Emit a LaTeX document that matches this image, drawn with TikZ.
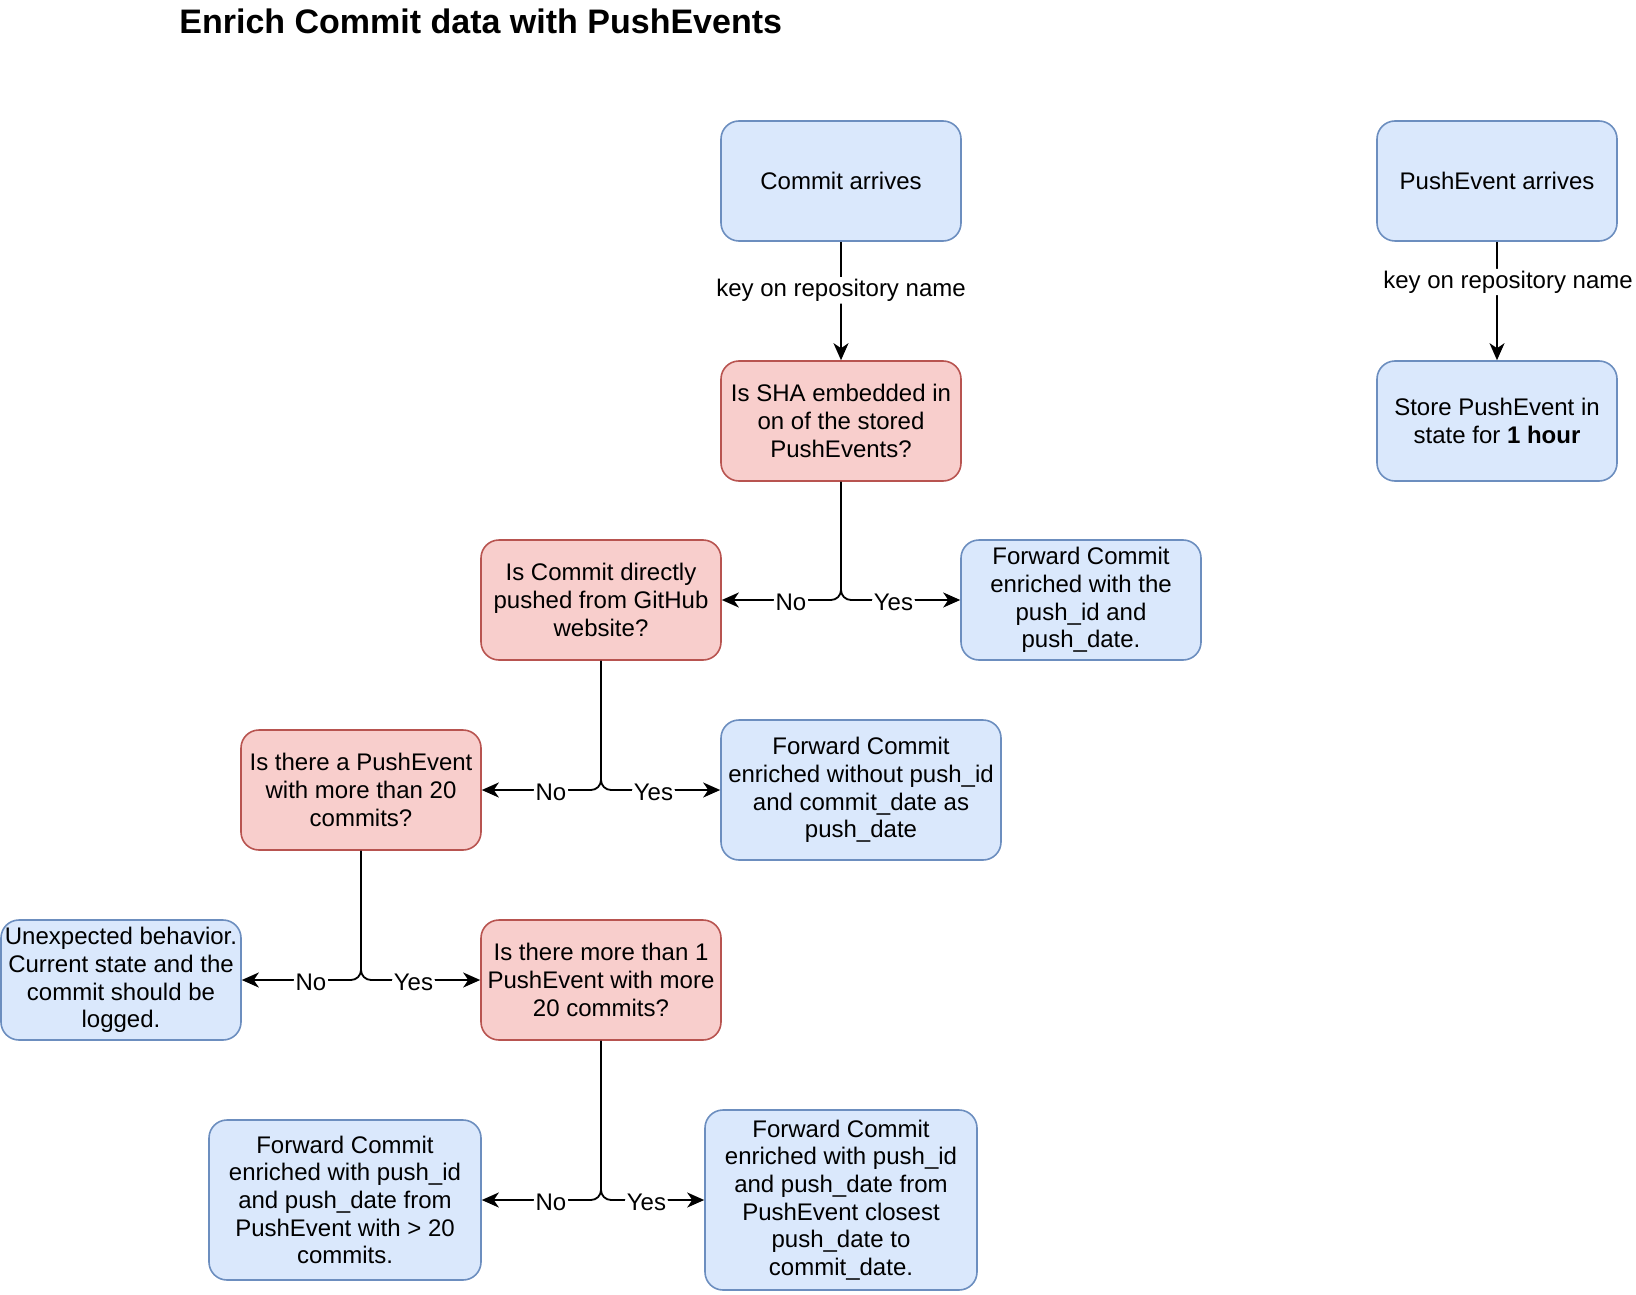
\documentclass[tikz,border=0pt]{standalone}
\usepackage{fontspec}
\setmainfont{Liberation Sans}
\usepackage{tikz}
\usetikzlibrary{arrows.meta}
\definecolor{bluefill}{HTML}{DAE8FC}
\definecolor{blueline}{HTML}{6C8EBF}
\definecolor{redfill}{HTML}{F8CECC}
\definecolor{redline}{HTML}{B85450}

\begin{document}
\begin{tikzpicture}[x=0.5pt, y=-0.5pt,
  action/.style={draw=blueline, fill=bluefill, line width=0.8pt, rounded corners=9pt,
    minimum width=120pt, minimum height=60pt, align=center, inner sep=1pt,
    font=\fontsize{12}{13.8}\selectfont},
  query/.style={action, draw=redline, fill=redfill},
  flow/.style={line width=0.9pt, rounded corners=5pt, -{Stealth[length=8.5pt, width=7.5pt, inset=2.5pt]}},
  tag/.style={fill=white, inner sep=1pt, font=\fontsize{12}{14}\selectfont}]
  \useasboundingbox (0, 0) rectangle (1636, 1294);

  \node[anchor=west, inner sep=0pt, font=\fontsize{17}{20}\selectfont\bfseries] (title) at (179, 21) {Enrich Commit data with PushEvents};

  % entry points
  \node[action] (commit) at (841, 181) {Commit arrives};
  \node[action] (pushev) at (1497, 181) {PushEvent arrives};
  \node[action] (store) at (1497, 421) {Store PushEvent in\\state for \textbf{1 hour}};

  % decisions and outcomes
  \node[query] (sha) at (841, 421) {Is SHA embedded in\\on of the stored\\PushEvents?};
  \node[query] (direct) at (601, 600) {Is Commit directly\\pushed from GitHub\\website?};
  \node[action] (fwdsha) at (1081, 600) {Forward Commit\\enriched with the\\push\_id and\\push\_date.};
  \node[query] (many) at (361, 790) {Is there a PushEvent\\with more than 20\\commits?};
  \node[action, minimum width=140pt, minimum height=70pt] (fwdweb) at (861, 790) {Forward Commit\\enriched without push\_id\\and commit\_date as\\push\_date};
  \node[action] (unexp) at (121, 980) {Unexpected behavior.\\Current state and the\\commit should be\\logged.};
  \node[query] (multi) at (601, 980) {Is there more than 1\\PushEvent with more\\20 commits?};
  \node[action, minimum width=136pt, minimum height=80pt] (fwdone) at (345, 1200) {Forward Commit\\enriched with push\_id\\and push\_date from\\PushEvent with > 20\\commits.};
  \node[action, minimum width=136pt, minimum height=90pt] (fwdclose) at (841, 1200) {Forward Commit\\enriched with push\_id\\and push\_date from\\PushEvent closest\\push\_date to\\commit\_date.};

  \draw[flow] (commit) -- node[tag, pos=0.41] {key on repository name} (sha);
  \draw[flow] (pushev) -- node[tag, pos=0.34, xshift=5.5pt] {key on repository name} (store);

  \foreach \q/\no/\yes in {sha/direct/fwdsha, direct/many/fwdweb, many/unexp/multi, multi/fwdone/fwdclose} {
    \draw[flow] (\q.south) |- node[tag, pos=0.71, yshift=-1pt] {No} (\no.east);
    \draw[flow] (\q.south) |- node[tag, pos=0.72, yshift=-1pt] {Yes} (\yes.west);
  }
\end{tikzpicture}
\end{document}
